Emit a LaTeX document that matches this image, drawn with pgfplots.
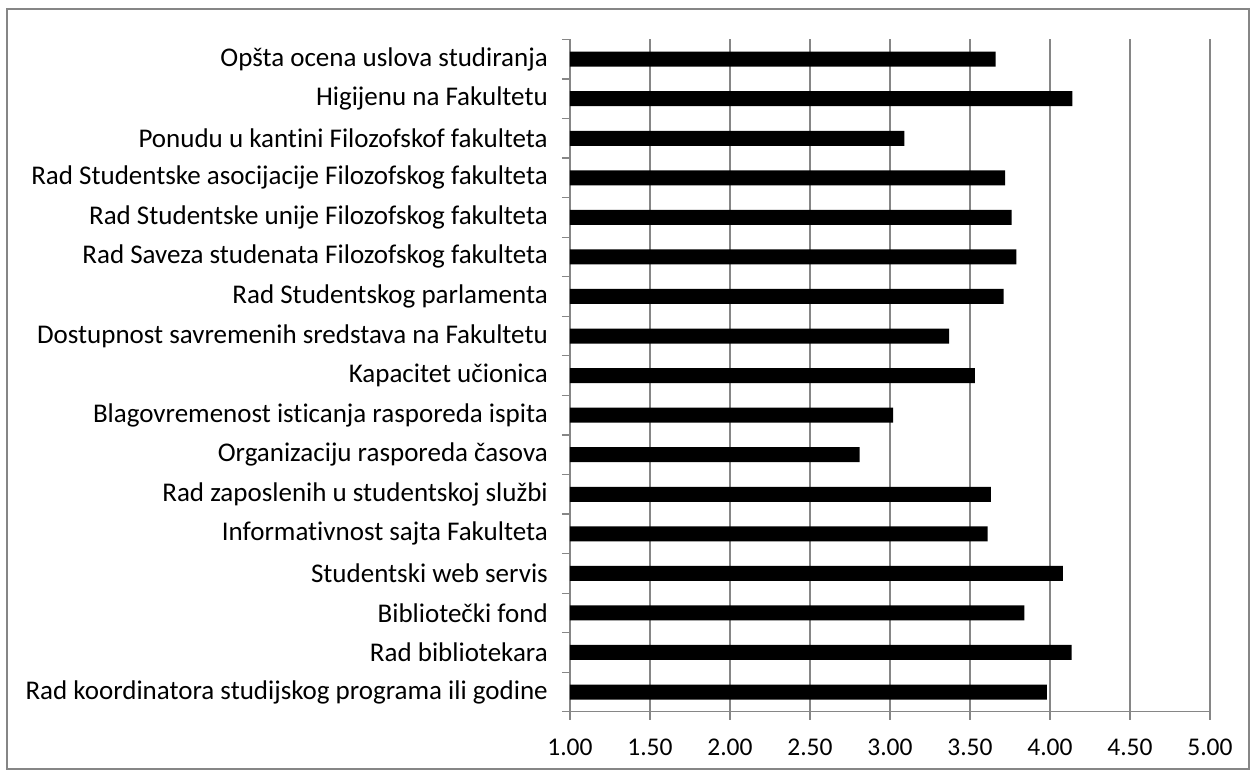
\documentclass[border=0pt]{standalone}
\usepackage{pgfplots}
\pgfplotsset{compat=1.18}
\usepackage{fontspec}
\setmainfont{Carlito}[Ligatures=NoCommon]
\definecolor{axgray}{HTML}{868686}
\begin{document}
\begin{tikzpicture}
\begin{axis}[
  scale only axis,
  width=640bp, height=672.4bp,
  xmin=1, xmax=5, ymin=-0.5, ymax=16.5,
  axis x line*=bottom, axis y line*=left,
  axis line style={axgray, line width=1.2bp},
  xtick={1,1.5,...,5},
  xmajorgrids,
  grid style={axgray, line width=1.3bp},
  tick align=outside,
  major tick length=8bp,
  tick style={axgray, line width=1.2bp},
  xticklabel style={font=\fontsize{25.5bp}{30bp}\selectfont, anchor=north, inner sep=0pt, yshift=-19bp},
  /pgf/number format/.cd, fixed, fixed zerofill, precision=2, assume math mode=true,
  /pgfplots/.cd,
  ytick={-0.5,0.5,...,16.5},
  yticklabels={},
  extra y ticks={0,1,2,3,4,5,6,7,8,9,10,11,12,13,14,15,16},
  extra y tick labels={
    {Rad koordinatora studijskog programa ili godine},
    {Rad bibliotekara},
    {Bibliotečki fond},
    {Studentski web servis},
    {Informativnost sajta Fakulteta},
    {Rad zaposlenih u studentskoj službi},
    {Organizaciju rasporeda časova},
    {Blagovremenost isticanja rasporeda ispita},
    {Kapacitet učionica},
    {Dostupnost savremenih sredstava na Fakultetu},
    {Rad Studentskog parlamenta},
    {Rad Saveza studenata Filozofskog fakulteta},
    {Rad Studentske unije Filozofskog fakulteta},
    {Rad Studentske asocijacije Filozofskog fakulteta},
    {Ponudu u kantini Filozofskof fakulteta},
    {Higijenu na Fakultetu},
    {Opšta ocena uslova studiranja}},
  extra y tick style={major tick length=0pt, yticklabel style={font=\fontsize{27bp}{32bp}\selectfont, anchor=east, inner sep=0pt, xshift=-22bp}},
]
\addplot[xbar, fill=black, draw=none, bar width=15bp] coordinates {
(3.98,0) (4.135,1) (3.84,2) (4.08,3) (3.61,4) (3.63,5) (2.81,6) (3.02,7) (3.53,8)
(3.37,9) (3.71,10) (3.79,11) (3.76,12) (3.72,13) (3.09,14) (4.14,15) (3.66,16)};
\end{axis}
\draw[axgray, line width=1.2bp] (-563bp,-57.2bp) rectangle (679bp,702.8bp);
\path[use as bounding box] (-570bp,-64.2bp) rectangle (686bp,711.8bp);
\end{tikzpicture}
\end{document}
